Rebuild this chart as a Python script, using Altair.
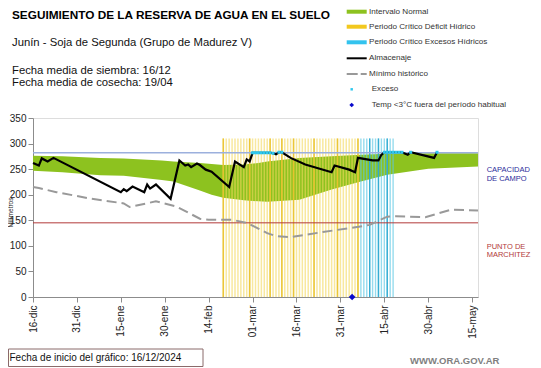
import altair as alt
import pandas as pd

# ---------------- data ----------------
tick_days = [0, 15, 30, 45, 60, 75, 90, 105, 120, 135, 150]
tick_labels = ["16-dic", "31-dic", "15-ene", "30-ene", "14-feb", "01-mar",
               "16-mar", "31-mar", "15-abr", "30-abr", "15-may"]
y_ticks = [0, 50, 100, 150, 200, 250, 300, 350]

band_days = [0, 10, 23, 31, 44, 48, 57, 61, 65, 72, 77, 80, 91, 102, 112, 121, 135, 152]
band_lower = [247, 244, 238, 237, 229, 226, 208, 200, 194, 189, 187, 186, 190, 210, 226, 239, 251, 255]
band_upper = [276, 275, 272, 271, 267, 265, 262, 260, 258, 259, 262, 265, 272, 275, 278, 280, 281, 281]

alm_days = [0, 2, 3, 5, 7, 30, 31, 32, 34, 38, 39, 40, 42, 47, 50, 52, 53, 54, 56, 57,
            59, 61, 67, 69, 72, 73, 74, 75, 76, 77, 78, 79, 80, 81, 82, 83, 84, 85, 88,
            93, 102, 103, 108, 110, 111, 116, 118, 119, 120, 121, 122, 123, 124, 125,
            126, 128, 129, 137, 138]
alm_values = [262, 257, 271, 265, 272, 205, 211, 207, 216, 205, 220, 212, 220, 192, 267,
              257, 259, 254, 261, 258, 249, 245, 215, 265, 254, 269, 265, 282, 282, 282,
              282, 282, 282, 282, 281, 279, 283, 283, 272, 259, 244, 257, 249, 244, 272,
              267, 267, 278, 283, 283, 283, 283, 283, 283, 283, 278, 283, 272, 283]

min_days = [0, 2, 8, 20, 31, 33, 42, 49, 57, 60, 68, 73, 80, 83, 88, 99, 113, 115, 121,
            124, 134, 143, 152]
min_values = [215, 213, 205, 192, 183, 176, 187, 177, 153, 151, 151, 145, 125, 119, 117,
              127, 139, 141, 157, 158, 156, 171, 169]

exceso_days = [75, 76, 77, 78, 79, 80, 81, 82, 84, 85, 120, 121, 122, 123, 124, 125, 126, 129, 138]
exceso_values = [282, 282, 282, 282, 282, 282, 282, 281, 283, 283, 283, 283, 283, 283, 283,
                 283, 283, 283, 283]

temp_days = [109]
temp_values = [0]

deficit_days = list(range(65, 112))
deficit_dark = [65, 74, 81, 85, 89, 96, 104, 111]
exceso_period_days = list(range(112, 124))
exceso_period_dark = [115, 118, 121]

capacidad = 282
marchitez = 145
bar_top = 310

title_text = "SEGUIMIENTO DE LA RESERVA DE AGUA  EN EL SUELO"
subtitle_text = "Junín  - Soja de Segunda (Grupo de Madurez V)"
siembra_text = "Fecha media de siembra: 16/12"
cosecha_text = "Fecha media de cosecha: 19/04"
inicio_text = "Fecha de inicio del gráfico:  16/12/2024"
web_text = "WWW.ORA.GOV.AR"
legend_labels = ["Intervalo Normal", "Periodo Crítico Déficit Hídrico",
                 "Periodo Crítico Excesos Hídricos", "Almacenaje", "Mínimo histórico",
                 "Exceso", "Temp <3°C fuera del período habitual"]

# ---------------- chart ----------------
W, H = 445, 179
FONT = "Liberation Sans"

xscale = alt.Scale(domain=[0, 152], nice=False, zero=False)
yscale = alt.Scale(domain=[0, 350], nice=False)

label_expr = "[" + ",".join("'%s'" % s for s in tick_labels) + "][round(datum.value/15)]"

xaxis = alt.Axis(values=tick_days, labelExpr=label_expr, labelAngle=270, labelAlign="right",
                 labelBaseline="middle", tickSize=5, domainColor="#8c8c8c", tickColor="#8c8c8c",
                 labelFontSize=10, labelColor="#222", title=None, grid=False, labelPadding=3,
                 labelOverlap=False)
yaxis = alt.Axis(values=y_ticks, tickSize=5, domainColor="#8c8c8c", labelOverlap=False,
                 tickColor="#8c8c8c", labelFontSize=10, labelColor="#222", grid=False,
                 title="Milímetros", titleFontSize=6.5, titleFontWeight="normal",
                 titleX=-23, titleY=94, titleAngle=270, titleBaseline="middle", titleAlign="center",
                 titleColor="#222", labelPadding=2, labelFlush=False)

X = lambda f: alt.X(f, scale=xscale, axis=xaxis)
Y = lambda f: alt.Y(f, scale=yscale, axis=yaxis)

band_df = pd.DataFrame({"d": band_days, "lo": band_lower, "hi": band_upper})
band = alt.Chart(band_df).mark_area(color="#8DC21F", opacity=1).encode(
    x=X("d:Q"), y=Y("lo:Q"), y2="hi:Q",
)

def bars(days, color, width, opacity):
    df = pd.DataFrame({"d": days})
    return alt.Chart(df).mark_rule(color=color, strokeWidth=width, opacity=opacity).encode(
        x=X("d:Q"), y=Y("y0:Q"), y2="y1:Q",
    ).transform_calculate(y0="0", y1=str(bar_top))

def_bars = bars(deficit_days, "#F3D95E", 1.5, 0.6)
def_dark = bars(deficit_dark, "#E9C22B", 1.5, 0.9)
exc_bars = bars(exceso_period_days, "#5DC7E3", 1.4, 0.65)
exc_dark = bars(exceso_period_dark, "#2BA7CF", 1.4, 0.9)

cap_df = pd.DataFrame({"v": [capacidad]})
mar_df = pd.DataFrame({"v": [marchitez]})
cap_line = alt.Chart(cap_df).mark_rule(color="#9CB0DD", strokeWidth=1.5).encode(y=Y("v:Q"))
mar_line = alt.Chart(mar_df).mark_rule(color="#B23A3A", strokeWidth=1).encode(y=Y("v:Q"))

min_df = pd.DataFrame({"d": min_days, "v": min_values})
min_line = alt.Chart(min_df).mark_line(color="#999999", strokeWidth=2, strokeDash=[10, 5]).encode(
    x=X("d:Q"), y=Y("v:Q"))

alm_df = pd.DataFrame({"d": alm_days, "v": alm_values})
alm_line = alt.Chart(alm_df).mark_line(color="#000000", strokeWidth=2.2).encode(
    x=X("d:Q"), y=Y("v:Q"))

exc_df = pd.DataFrame({"d": exceso_days, "v": exceso_values})
exc_pts = alt.Chart(exc_df).mark_point(shape="square", filled=True, color="#2FC8EE", size=9,
                                        opacity=1).encode(x=X("d:Q"), y=Y("v:Q"))

temp_df = pd.DataFrame({"d": temp_days, "v": temp_values})
temp_pts = alt.Chart(temp_df).mark_point(shape="diamond", filled=True, color="#0A0ACC", size=45,
                                          opacity=1).encode(x=X("d:Q"), y=Y("v:Q"))

empty = alt.Data(values=[{}])

def text(t, x, y, size=11, color="#000", weight="normal", align="left", font=FONT):
    return alt.Chart(empty).mark_text(text=t, fontSize=size, color=color, fontWeight=weight,
                                      align=align, baseline="middle", font=font).encode(
        x=alt.value(x), y=alt.value(y))

def hrule(x1, x2, y, color, width, dash=None):
    kw = dict(color=color, strokeWidth=width)
    if dash:
        kw["strokeDash"] = dash
    return alt.Chart(empty).mark_rule(**kw).encode(x=alt.value(x1), x2=alt.value(x2), y=alt.value(y))

def sym(x, y, shape, color, size):
    return alt.Chart(empty).mark_point(shape=shape, filled=True, color=color, size=size,
                                       opacity=1).encode(x=alt.value(x), y=alt.value(y))

rows = [-106.3, -91.3, -75.7, -59.7, -44, -28.7, -13]
texts = [
    text(title_text, -21, -103, size=11.8, weight="bold"),
    text(subtitle_text, -21, -75, size=11.3, color="#111"),
    text(siembra_text, -21, -47, size=11.3, color="#111"),
    text(cosecha_text, -21, -35.5, size=11.3, color="#111"),
    hrule(313.7, 333.7, rows[0], "#8DC21F", 4),
    hrule(313.7, 333.7, rows[1], "#F2C81E", 4),
    hrule(313.7, 333.7, rows[2], "#33C3EE", 4),
    hrule(313.7, 333.7, rows[3], "#000000", 2),
    hrule(313.7, 333.7, rows[4], "#999999", 2, [11, 3, 6, 2]),
    sym(318.7, rows[5], "square", "#2FC8EE", 6),
    sym(318.7, rows[6], "diamond", "#0A0ACC", 22),
]
for i, lab in enumerate(legend_labels):
    lx = 336 if i < 5 else 338.7
    texts.append(text(lab, lx, rows[i], size=8.1, color="#333"))

texts += [
    text("CAPACIDAD", 453.7, 52, size=7.5, color="#2B2B9B"),
    text("DE  CAMPO", 453.7, 61, size=7.5, color="#2B2B9B"),
    text("PUNTO  DE", 453.7, 128.7, size=7.5, color="#B23A3A"),
    text("MARCHITEZ", 453.7, 137.3, size=7.5, color="#B23A3A"),
]

box = alt.Chart(empty).mark_rect(fill="white", stroke="#8a6a6a", strokeWidth=1).encode(
    x=alt.value(-24.5), x2=alt.value(170), y=alt.value(231), y2=alt.value(248.5))
texts += [
    box,
    text(inicio_text, -23.5, 240, size=10, color="#111"),
    text(web_text, 377, 242.5, size=9.5, color="#7f7f7f", weight="bold"),
]

chart = alt.layer(
    band, def_bars, def_dark, exc_bars, exc_dark, cap_line, mar_line, min_line, alm_line,
    exc_pts, temp_pts, *texts
).properties(
    width=W, height=H, autosize=alt.AutoSizeParams(type="none"),
    padding={"left": 25, "top": 110, "right": 55, "bottom": 71},
    background="white",
).configure_view(stroke=None).configure(font=FONT)

chart.save("out.html", embed_options={"renderer": "svg", "actions": False})
